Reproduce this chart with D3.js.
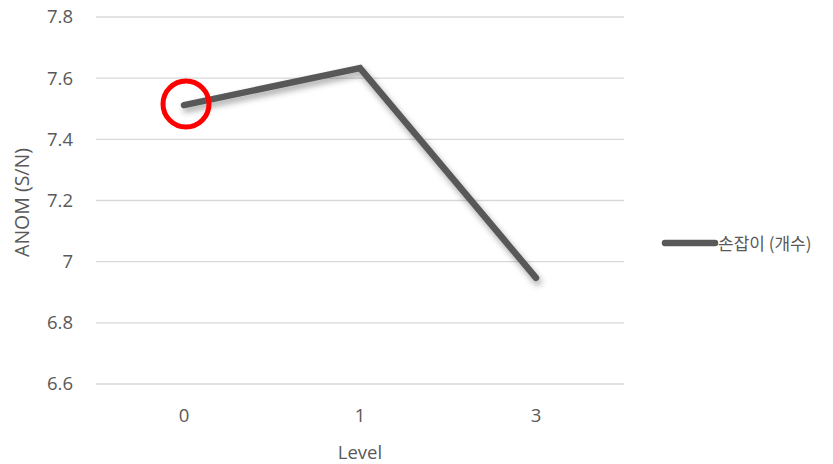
<!DOCTYPE html>
<html>
<head>
<meta charset="utf-8">
<script src="https://cdn.jsdelivr.net/npm/d3@7/dist/d3.min.js"></script>
<style>
  html, body { margin: 0; padding: 0; background: #fff; }
  svg { display: block; }
  text { font-family: "Open Sans", "Noto Sans", "Noto Sans CJK KR", sans-serif; fill: #595959; }
</style>
</head>
<body>
<svg id="chart" width="833" height="464"></svg>
<script>
// Data
const levels = ["0", "1", "3"];
const anomValues = [7.512, 7.633, 6.947];
const yTicks = [6.6, 6.8, 7.0, 7.2, 7.4, 7.6, 7.8];
const seriesName = "손잡이 (개수)";
const highlightIndex = 0;

const svg = d3.select("#chart");
const plot = { left: 96, right: 624, top: 17, bottom: 384 };

const x = d3.scaleBand().domain(levels).range([plot.left, plot.right]);
const y = d3.scaleLinear().domain([6.6, 7.8]).range([plot.bottom, plot.top]);

// Soft drop shadow under the series line
const defs = svg.append("defs");
const f = defs.append("filter").attr("id", "shadow")
  .attr("x", "-20%").attr("y", "-20%").attr("width", "140%").attr("height", "140%");
f.append("feDropShadow").attr("dx", 2).attr("dy", 4).attr("stdDeviation", 3)
  .attr("flood-color", "#000").attr("flood-opacity", 0.35);

// Horizontal gridlines
svg.append("g").selectAll("line").data(yTicks).join("line")
  .attr("x1", plot.left).attr("x2", plot.right)
  .attr("y1", d => y(d)).attr("y2", d => y(d))
  .attr("stroke", "#d9d9d9").attr("stroke-width", 1.3);

const labelFont = "'Open Sans', sans-serif";

// Y axis labels
const yAxis = d3.axisLeft(y).tickValues(yTicks).tickSize(0).tickPadding(0)
  .tickFormat(d => d === 7 ? "7" : d3.format(".1f")(d));
svg.append("g").attr("transform", `translate(73,0)`).call(yAxis)
  .call(g => g.select(".domain").remove())
  .call(g => g.selectAll("text").attr("font-size", 18.5).attr("fill", "#595959")
    .style("font-family", labelFont));

// X axis labels
const xAxis = d3.axisBottom(x).tickSize(0).tickPadding(0);
svg.append("g").attr("transform", `translate(0,409)`).call(xAxis)
  .call(g => g.select(".domain").remove())
  .call(g => g.selectAll("text").attr("font-size", 18.5).attr("fill", "#595959")
    .style("font-family", labelFont));

// Axis titles
svg.append("text").attr("x", (plot.left + plot.right) / 2).attr("y", 459)
  .attr("text-anchor", "middle").attr("font-size", 18.5).style("font-family", labelFont).text("Level");
svg.append("text").attr("transform", `translate(29,${(plot.top + plot.bottom) / 2 + 2}) rotate(-90)`)
  .attr("text-anchor", "middle").attr("font-size", 19.5).style("font-family", labelFont).text("ANOM (S/N)");

// Series line
const line = d3.line()
  .x((d, i) => x(levels[i]) + x.bandwidth() / 2)
  .y(d => y(d));
svg.append("path").datum(anomValues)
  .attr("d", line)
  .attr("fill", "none").attr("stroke", "#595959").attr("stroke-width", 6.5)
  .attr("stroke-linejoin", "miter").attr("stroke-linecap", "round")
  .attr("filter", "url(#shadow)");

// Highlight ring on the first level
svg.append("circle")
  .attr("cx", x(levels[highlightIndex]) + x.bandwidth() / 2 + 2)
  .attr("cy", y(anomValues[highlightIndex]) - 1)
  .attr("r", 23).attr("fill", "none").attr("stroke", "#ff0000").attr("stroke-width", 5);

// Legend
const lg = svg.append("g").attr("transform", "translate(665,243)");
lg.append("line").attr("x1", 0).attr("x2", 50).attr("y1", 0).attr("y2", 0)
  .attr("stroke", "#595959").attr("stroke-width", 6.5).attr("stroke-linecap", "round");
lg.append("text").attr("x", 53).attr("y", 6.5).attr("font-size", 17)
  .style("font-family", "'Noto Sans CJK KR', 'Open Sans', sans-serif").text(seriesName);
</script>
</body>
</html>
